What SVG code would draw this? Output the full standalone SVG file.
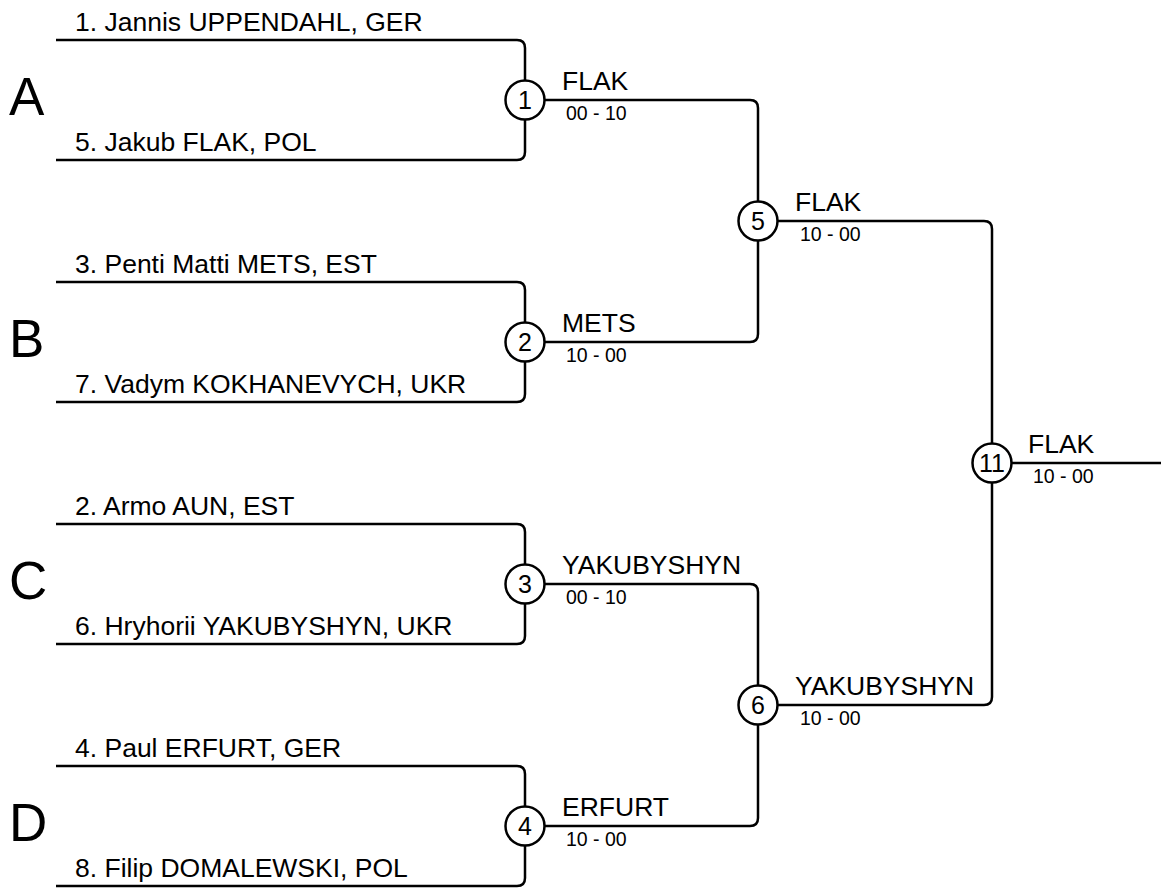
<svg xmlns="http://www.w3.org/2000/svg" width="1161" height="888" viewBox="0 0 1161 888">
<style>
.ln{fill:none;stroke:#000;stroke-width:2.5}
.c{fill:#fff;stroke:#000;stroke-width:2.5}
.nm{font-family:"Liberation Sans",Arial,sans-serif;font-size:26.5px;fill:#000}
.num{font-family:"Liberation Sans",Arial,sans-serif;font-size:25px;fill:#000;text-anchor:middle}
.w{font-family:"Liberation Sans",Arial,sans-serif;font-size:26.5px;fill:#000}
.s{font-family:"Liberation Sans",Arial,sans-serif;font-size:19.5px;fill:#000}
.g{font-family:"Liberation Sans",Arial,sans-serif;font-size:53px;fill:#000}
</style>
<rect width="1161" height="888" fill="#fff"/>
<g id="connectors">
<path class="ln" d="M56 40H517Q525 40 525 48V100M525 100V152Q525 160 517 160H56"/>
<path class="ln" d="M56 282H517Q525 282 525 290V342M525 342V394Q525 402 517 402H56"/>
<path class="ln" d="M56 524H517Q525 524 525 532V584M525 584V636Q525 644 517 644H56"/>
<path class="ln" d="M56 766H517Q525 766 525 774V826M525 826V878Q525 886 517 886H56"/>
<path class="ln" d="M525 100H750Q758 100 758 108V221M758 221V334Q758 342 750 342H525"/>
<path class="ln" d="M525 584H750Q758 584 758 592V705M758 705V818Q758 826 750 826H525"/>
<path class="ln" d="M758 221H984Q992 221 992 229V463M992 463V697Q992 705 984 705H758"/>
<path class="ln" d="M992 463H1161"/>
</g>
<g id="groups">
<text class="g" x="9" y="115">A</text>
<text class="g" x="9" y="357">B</text>
<text class="g" x="9" y="599">C</text>
<text class="g" x="9" y="841">D</text>
</g>
<g id="players">
<text class="nm" x="75" y="31">1. Jannis UPPENDAHL, GER</text>
<text class="nm" x="75" y="151">5. Jakub FLAK, POL</text>
<text class="nm" x="75" y="273">3. Penti Matti METS, EST</text>
<text class="nm" x="75" y="393">7. Vadym KOKHANEVYCH, UKR</text>
<text class="nm" x="75" y="515">2. Armo AUN, EST</text>
<text class="nm" x="75" y="635">6. Hryhorii YAKUBYSHYN, UKR</text>
<text class="nm" x="75" y="757">4. Paul ERFURT, GER</text>
<text class="nm" x="75" y="877">8. Filip DOMALEWSKI, POL</text>
</g>
<g id="m1"><circle class="c" cx="525" cy="100" r="19.5"/><text class="num" x="525" y="109">1</text>
<text class="w" x="562" y="90">FLAK</text><text class="s" x="566" y="120">00 - 10</text></g>
<g id="m2"><circle class="c" cx="525" cy="342" r="19.5"/><text class="num" x="525" y="351">2</text>
<text class="w" x="562" y="332">METS</text><text class="s" x="566" y="362">10 - 00</text></g>
<g id="m3"><circle class="c" cx="525" cy="584" r="19.5"/><text class="num" x="525" y="593">3</text>
<text class="w" x="562" y="574">YAKUBYSHYN</text><text class="s" x="566" y="604">00 - 10</text></g>
<g id="m4"><circle class="c" cx="525" cy="826" r="19.5"/><text class="num" x="525" y="835">4</text>
<text class="w" x="562" y="816">ERFURT</text><text class="s" x="566" y="846">10 - 00</text></g>
<g id="m5"><circle class="c" cx="758" cy="221" r="19.5"/><text class="num" x="758" y="230">5</text>
<text class="w" x="795" y="211">FLAK</text><text class="s" x="800" y="241">10 - 00</text></g>
<g id="m6"><circle class="c" cx="758" cy="705" r="19.5"/><text class="num" x="758" y="714">6</text>
<text class="w" x="795" y="695">YAKUBYSHYN</text><text class="s" x="800" y="725">10 - 00</text></g>
<g id="m11"><circle class="c" cx="992" cy="463" r="19.5"/><text class="num" x="992" y="472">11</text>
<text class="w" x="1028" y="453">FLAK</text><text class="s" x="1033" y="483">10 - 00</text></g>
</svg>
